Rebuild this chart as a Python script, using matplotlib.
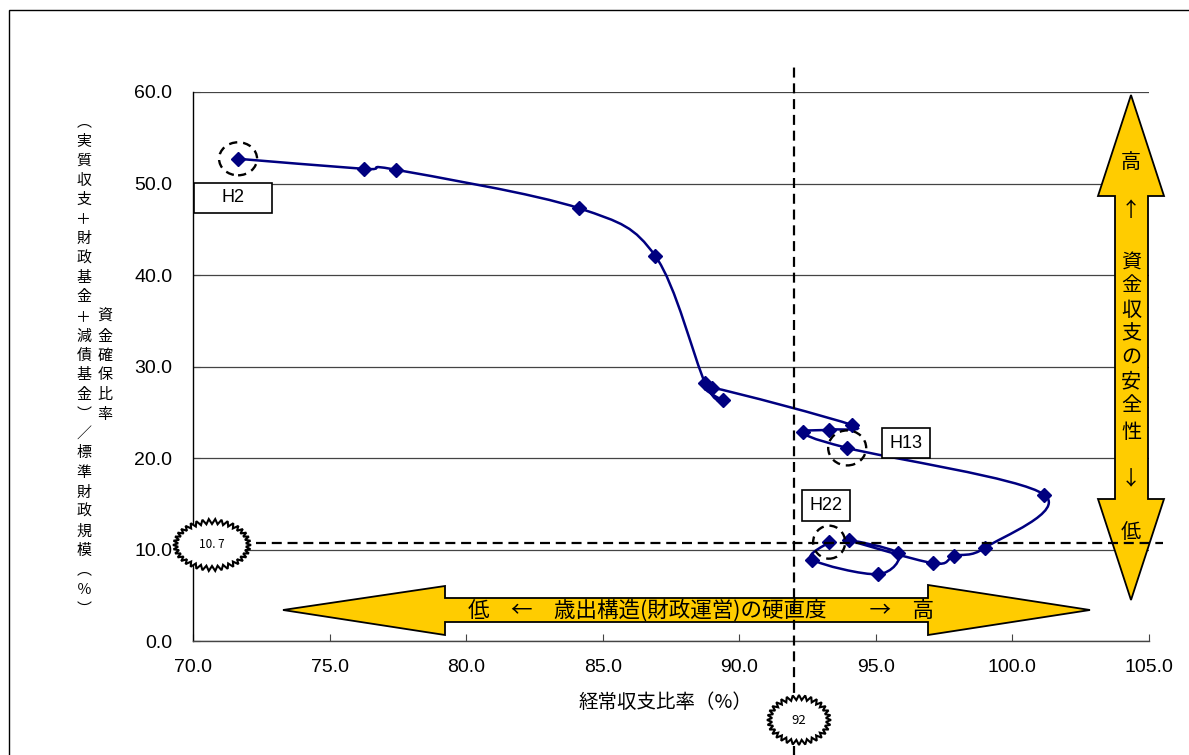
import numpy as np
import matplotlib
matplotlib.use('Agg')
import matplotlib.pyplot as plt
from matplotlib.path import Path
from matplotlib.patches import PathPatch, Polygon, Rectangle, Ellipse
from matplotlib.ticker import FormatStrFormatter

plt.rcParams['font.family'] = ['Liberation Sans', 'Noto Sans CJK JP', 'DejaVu Sans']
JP = ['Noto Sans CJK JP', 'DejaVu Sans']

# --- data (H2 .. H22) ---
years = ['H2', 'H3', 'H4', 'H5', 'H6', 'H7', 'H8', 'H9', 'H10', 'H11', 'H12',
         'H13', 'H14', 'H15', 'H16', 'H17', 'H18', 'H19', 'H20', 'H21', 'H22']
keijo = [71.65, 76.26, 77.43, 84.13, 86.92, 88.75, 89.40, 88.99, 94.13, 93.29, 92.34,
         93.95, 101.16, 99.00, 97.87, 97.10, 94.02, 95.81, 95.08, 92.67, 93.29]
shikin = [52.7, 51.6, 51.5, 47.3, 42.1, 28.2, 26.3, 27.7, 23.6, 23.1, 22.8,
          21.1, 16.0, 10.2, 9.3, 8.5, 11.0, 9.6, 7.3, 8.9, 10.8]
ref_x = 92
ref_y = 10.7
marked = ['H2', 'H13', 'H22']

W, H = 1189, 755
fig = plt.figure(figsize=(W / 100, H / 100), dpi=100)


def fx(px):
    return np.asarray(px) / W


def fy(py):
    return 1 - np.asarray(py) / H


ax = fig.add_axes([fx(193), fy(641), (1149 - 193) / W, (641 - 92) / H])
ax.set_xlim(70, 105)
ax.set_ylim(0, 60)
ax.set_xticks(np.arange(70, 106, 5))
ax.set_yticks(np.arange(0, 61, 10))
ax.xaxis.set_major_formatter(FormatStrFormatter('%.1f'))
ax.yaxis.set_major_formatter(FormatStrFormatter('%.1f'))
ax.tick_params(axis='both', direction='in', length=5, labelsize=14, width=0.8, color='#444444')
ax.tick_params(axis='x', pad=13)
ax.tick_params(axis='y', pad=15)
ax.spines['top'].set_visible(False)
ax.spines['right'].set_visible(False)
ax.spines['left'].set_linewidth(1.0)
ax.spines['bottom'].set_linewidth(1.0)
ax.spines['bottom'].set_color('#444444')
ax.set_axisbelow(True)
ax.yaxis.grid(True, color='#444444', lw=0.9)


# smoothed line through the points (like Excel's smooth scatter)
def smooth_path(xs, ys):
    pts = np.column_stack([xs, ys])
    n = len(pts)
    verts = [pts[0]]
    codes = [Path.MOVETO]
    for i in range(n - 1):
        p0 = pts[max(i - 1, 0)]
        p1 = pts[i]
        p2 = pts[i + 1]
        p3 = pts[min(i + 2, n - 1)]
        verts += [p1 + (p2 - p0) / 6, p2 - (p3 - p1) / 6, p2]
        codes += [Path.CURVE4] * 3
    return Path(verts, codes)


ax.add_patch(PathPatch(smooth_path(keijo, shikin), fc='none', ec='#000080', lw=1.8, zorder=3))
ax.plot(keijo, shikin, 'D', color='#000080', ms=7.5, zorder=4, clip_on=False)

# reference dashed lines
ax.plot([ref_x, ref_x], [-12.6, 63.0], color='black', lw=1.6, dashes=(4.5, 2.6), clip_on=False, zorder=5)
ax.plot([72.3, 105.5], [ref_y, ref_y], color='black', lw=1.6, dashes=(4.5, 2.6), clip_on=False, zorder=5)

# dashed circles around marked years
circ_px = {'H2': (38, 33), 'H13': (38, 35), 'H22': (32, 33)}
for yr in marked:
    i = years.index(yr)
    w, h = circ_px[yr]
    ax.add_patch(Ellipse((keijo[i], shikin[i]), w / 27.31, h / 9.15, fc='none', ec='black',
                         lw=1.7, ls=(0, (3.5, 2.5)), zorder=5, clip_on=False))

# year label boxes (pixel boxes)
boxes = {'H2': (194, 183, 272, 213), 'H13': (882, 428, 930, 458), 'H22': (802, 490, 850, 521)}
for yr, (x0, y0, x1, y1) in boxes.items():
    ax.add_patch(Rectangle((fx(x0), fy(y1)), (x1 - x0) / W, (y1 - y0) / H, transform=fig.transFigure,
                           fc='white', ec='black', lw=1.2, zorder=6, clip_on=False))
    ax.text(fx((x0 + x1) / 2), fy((y0 + y1) / 2), yr, transform=fig.transFigure, ha='center',
            va='center', fontsize=13, zorder=7)

# yellow double arrows
harrow = [(283, 610), (445, 586), (445, 598), (928, 598), (928, 585), (1090, 610),
          (928, 635), (928, 622), (445, 622), (445, 635)]
varrow = [(1131, 95), (1164, 196), (1148, 196), (1148, 499), (1164, 499), (1131, 600),
          (1098, 499), (1115, 499), (1115, 196), (1098, 196)]
for poly in (harrow, varrow):
    p = np.array(poly, dtype=float)
    ax.add_patch(Polygon(np.column_stack([fx(p[:, 0]), fy(p[:, 1])]), closed=True,
                         transform=fig.transFigure, fc='#FFCC00', ec='black', lw=1.3,
                         zorder=2, clip_on=False))

ax.text(fx(701), fy(611), '低　←　歳出構造(財政運営)の硬直度　　→　高', transform=fig.transFigure,
        ha='center', va='center', fontsize=15.5, family=JP, zorder=7)

vchars = ['高', '↑', '資', '金', '収', '支', 'の', '安', '全', '性', '↓', '低']
vpos = [162, 210, 262, 286, 310, 334, 358, 382, 406, 433, 480, 532]
for ch, py in zip(vchars, vpos):
    ax.text(fx(1131), fy(py), ch, transform=fig.transFigure, ha='center', va='center',
            fontsize=14.5, family=JP, zorder=7)


# starburst labels
def starburst(cx, cy, rx, ry, n, depth, label, fs):
    t = np.linspace(0, 2 * np.pi, 2 * n, endpoint=False)
    r = np.where(np.arange(2 * n) % 2 == 0, 0.0, 1.0)
    xs = cx + (rx - depth * r) * np.cos(t)
    ys = cy + (ry - depth * r) * np.sin(t)
    ax.add_patch(Polygon(np.column_stack([fx(xs), fy(ys)]), closed=True, transform=fig.transFigure,
                         fc='white', ec='black', lw=1.5, zorder=6, clip_on=False))
    ax.text(fx(cx), fy(cy), label, transform=fig.transFigure, ha='center', va='center',
            fontsize=fs, family=JP, zorder=7)


starburst(212, 545, 39, 26, 38, 5, '10. 7', 8.5)
starburst(799, 720, 32, 25, 32, 5, '92', 9.5)

# axis titles
fig.text(fx(665), fy(703), '経常収支比率（%）', ha='center', va='center', fontsize=14, family=JP)

left_col = ['︵', '実', '質', '収', '支', '＋', '財', '政', '基', '金', '＋', '減', '債', '基', '金',
            '︶', '／', '標', '準', '財', '政', '規', '模', '︵', '％', '︶']
for k, ch in enumerate(left_col):
    fig.text(fx(84), fy(122 + k * 19.5), ch, ha='center', va='center', fontsize=10.8, family=JP)
right_col = ['資', '金', '確', '保', '比', '率']
for k, ch in enumerate(right_col):
    fig.text(fx(105), fy(317 + k * 19.5), ch, ha='center', va='center', fontsize=10.8, family=JP)

# outer frame
fig.add_artist(Rectangle((fx(9), fy(760)), (1200 - 9) / W, (760 - 10) / H, transform=fig.transFigure,
                         fc='none', ec='black', lw=1.0))

fig.savefig('out.png', dpi=100)
